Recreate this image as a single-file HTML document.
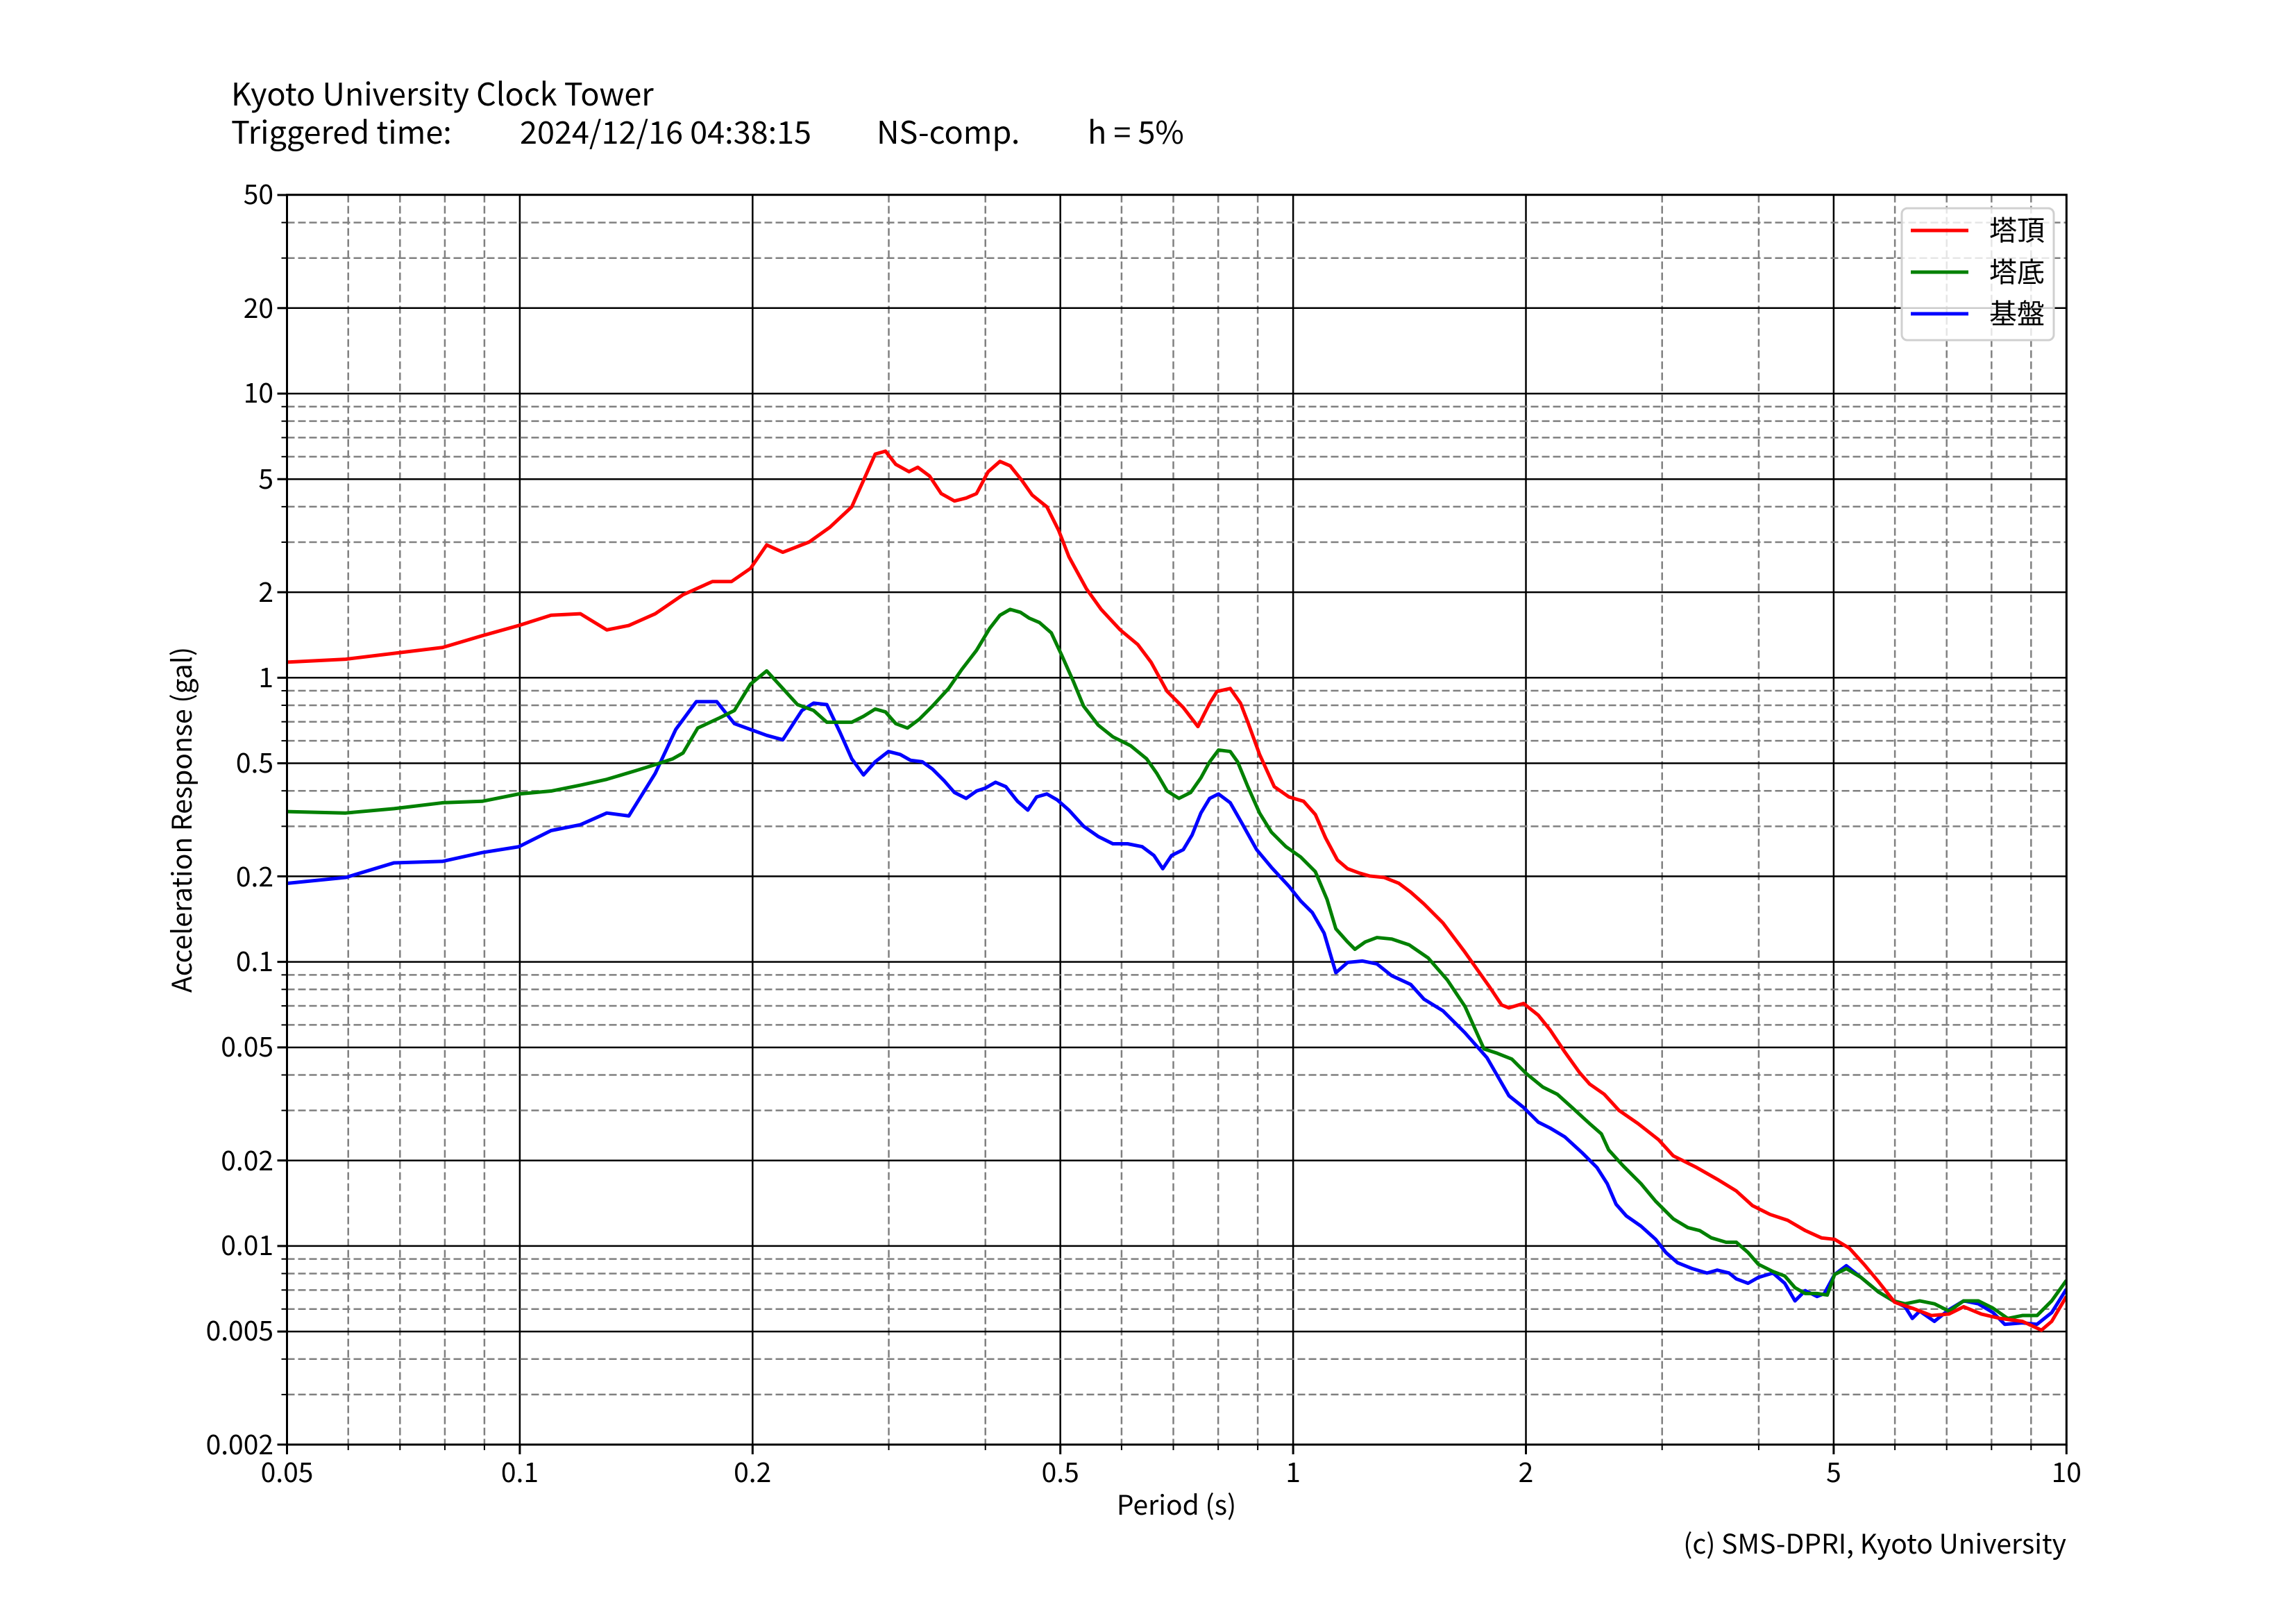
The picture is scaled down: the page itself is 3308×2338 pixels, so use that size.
<!DOCTYPE html>
<html><head><meta charset="utf-8">
<style>
html,body{margin:0;padding:0;background:#fff;}
svg{display:block;}
text{font-family:"Noto Sans CJK JP","Liberation Sans",sans-serif;fill:#000;}
</style></head>
<body>
<svg id="s" width="3308" height="2338" viewBox="0 0 3308 2338" xmlns="http://www.w3.org/2000/svg">
<rect width="3308" height="2338" fill="#fff"/>
<g id="grid"></g>
<g font-size="39" text-anchor="end">
<text x="394" y="294">50</text>
<text x="394" y="458">20</text>
<text x="394" y="580">10</text>
<text x="394" y="704">5</text>
<text x="394" y="867">2</text>
<text x="394" y="990">1</text>
<text x="394" y="1113">0.5</text>
<text x="394" y="1277">0.2</text>
<text x="394" y="1399">0.1</text>
<text x="394" y="1522">0.05</text>
<text x="394" y="1686">0.02</text>
<text x="394" y="1808">0.01</text>
<text x="394" y="1931">0.005</text>
<text x="394" y="2095">0.002</text>
</g>
<g font-size="39" text-anchor="middle">
<text x="413.5" y="2135">0.05</text>
<text x="748.9" y="2135">0.1</text>
<text x="1084.2" y="2135">0.2</text>
<text x="1527.7" y="2135">0.5</text>
<text x="1863.1" y="2135">1</text>
<text x="2198.4" y="2135">2</text>
<text x="2641.9" y="2135">5</text>
<text x="2977.3" y="2135">10</text>
<text x="1695" y="2182">Period (s)</text>
<text transform="translate(276,1181) rotate(-90)">Acceleration Response (gal)</text>
</g>
<text x="2977" y="2238" font-size="39" text-anchor="end">(c) SMS-DPRI, Kyoto University</text>
<g font-size="45">
<text x="333" y="152">Kyoto University Clock Tower</text>
<text x="333" y="207">Triggered time:</text>
<text x="749" y="207">2024/12/16 04:38:15</text>
<text x="1263" y="207">NS-comp.</text>
<text x="1567" y="207">h = 5%</text>
</g>
<svg x="413.5" y="280.6" width="2563.8" height="1800.4" viewBox="0 0 2563.8 1800.4" overflow="hidden">
<g transform="scale(2.1135,2.1104) translate(-197,-133)" fill="none" stroke-width="5" stroke-linejoin="round">
<polyline vector-effect="non-scaling-stroke" stroke="#00f" points="197,603 237,599 270,589 303,588 330,582 355,578 377,567 397,563 415,555 430,557 448,528 462,498 476,479 490,479 502,494 513,498 524,502 535,505 548,485 556,480 565,481 574,500 582,518 590,529 598,520 607,513 615,515 622,519 630,520 637,525 645,533 652,541 660,545 667,540 673,538 680,534 687,537 695,547 702,553 708,544 715,542 722,546 730,553 740,564 750,571 760,576 770,576 780,578 788,584 794,593 800,584 808,580 814,570 820,555 826,545 832,542 840,548 848,562 858,580 868,592 880,605 888,615 896,623 904,637 912,664 920,657 930,656 940,658 950,666 963,672 972,682 985,690 1000,705 1015,722 1030,748 1040,756 1050,766 1058,770 1068,776 1080,787 1090,797 1097,808 1103,822 1110,830 1120,837 1130,846 1137,855 1145,862 1155,866 1165,869 1172,867 1180,869 1185,873 1193,876 1200,872 1210,869 1218,876 1225,888 1232,881 1240,885 1245,883 1252,870 1260,864 1270,872 1282,882 1292,888 1300,892 1305,900 1310,895 1320,902 1330,894 1340,888 1350,890 1360,896 1368,904 1380,903 1390,904 1400,896 1410,880"/>
<polyline vector-effect="non-scaling-stroke" stroke="#008000" points="197,554 237,555 270,552 303,548 330,547 355,542 377,540 397,536 415,532 435,526 448,522 460,518 467,514 477,497 492,490 502,485 513,467 524,458 535,470 545,481 556,485 565,493 575,493 582,493 590,489 598,484 605,486 612,494 620,497 628,491 637,482 648,470 657,457 667,444 676,429 683,420 690,416 697,418 703,422 710,425 718,432 725,447 733,465 740,482 750,495 760,503 772,509 783,518 790,528 797,540 805,545 813,541 820,531 826,520 832,512 840,513 845,520 852,537 860,555 868,568 878,578 888,585 898,595 906,614 912,634 920,643 925,648 932,643 940,640 950,641 962,645 975,654 988,669 1000,687 1013,716 1022,719 1032,723 1042,733 1053,742 1063,747 1073,756 1085,767 1093,774 1098,785 1108,796 1120,808 1130,820 1142,832 1152,838 1160,840 1168,845 1178,848 1185,848 1193,855 1200,863 1210,868 1218,871 1225,879 1232,883 1240,883 1247,884 1252,870 1260,866 1270,872 1282,882 1292,888 1300,890 1310,888 1320,890 1330,895 1340,888 1350,888 1360,893 1370,900 1380,898 1390,898 1400,888 1410,874"/>
<polyline vector-effect="non-scaling-stroke" stroke="#f00" points="197,452 237,450 270,446 303,442 330,434 355,427 377,420 397,419 415,430 430,427 448,419 467,406 487,397 500,397 513,388 524,372 535,377 553,370 567,360 582,346 590,328 598,310 605,308 612,317 621,322 627,319 635,325 643,337 652,342 660,340 667,337 675,322 683,315 690,318 698,328 705,338 715,346 723,362 730,380 742,402 752,416 765,430 777,440 786,452 797,472 808,483 818,496 826,480 831,472 840,470 847,480 852,493 860,515 870,537 880,544 890,547 898,556 905,572 913,587 920,593 928,596 935,598 945,599 955,603 963,609 972,617 985,630 1000,650 1017,674 1025,686 1030,688 1040,685 1050,693 1058,703 1068,718 1078,732 1085,740 1095,747 1105,758 1118,767 1132,778 1142,789 1158,797 1172,805 1185,813 1196,823 1208,829 1220,833 1232,840 1243,845 1252,846 1262,852 1272,863 1282,875 1293,889 1305,893 1318,898 1330,897 1340,892 1352,897 1365,900 1380,902 1393,908 1400,902 1410,885"/>
</g>
</svg>
<rect x="413.5" y="280.6" width="2563.8" height="1800.4" fill="none" stroke="#000" stroke-width="3"/>
<rect x="2740" y="300" width="219" height="190" rx="8" fill="#fff" fill-opacity="0.8" stroke="#d0d0d0" stroke-width="3"/>
<line x1="2753" y1="332" x2="2836" y2="332" stroke="#f00" stroke-width="5"/>
<line x1="2753" y1="392" x2="2836" y2="392" stroke="#008000" stroke-width="5"/>
<line x1="2753" y1="452" x2="2836" y2="452" stroke="#00f" stroke-width="5"/>
<g font-size="40">
<text x="2866" y="346">塔頂</text>
<text x="2866" y="406">塔底</text>
<text x="2866" y="466">基盤</text>
</g>
</svg>
<script>
(function(){
var g=document.getElementById('grid'),NS='http://www.w3.org/2000/svg';
var L=413.5,R=2977.3,T=280.6,B=2081,xd=1114.2,yd=409.3;
function X(v){return L+(Math.log10(v)+1.30103)*xd;}
function Y(v){return B-(Math.log10(v)-Math.log10(0.002))*yd;}
function ln(x1,y1,x2,y2,c,w,d){var e=document.createElementNS(NS,'line');e.setAttribute('x1',x1);e.setAttribute('y1',y1);e.setAttribute('x2',x2);e.setAttribute('y2',y2);e.setAttribute('stroke',c);e.setAttribute('stroke-width',w);if(d)e.setAttribute('stroke-dasharray',d);g.appendChild(e);}
var xs=[];for(var dd=0.01;dd<=1.01;dd*=10){for(var k=1;k<10;k++){var v=+(k*dd).toPrecision(3);if(v>=0.05&&v<=10)xs.push(v);}}xs.push(10);
xs.forEach(function(v){var m=String(v).replace('0.','').replace(/0/g,'');var d1=m[0];var maj=(d1=='1'||d1=='2'||d1=='5');var x=X(v);
 if(maj){ln(x,T,x,B,'#000',2.5);ln(x,B,x,B+14,'#000',3);}else{ln(x,T,x,B,'#808080',2.5,'11,5');ln(x,B,x,B+8,'#000',2);}});
var ys=[];for(var dd2=0.001;dd2<=10.1;dd2*=10){for(var k2=1;k2<10;k2++){var v2=+(k2*dd2).toPrecision(3);if(v2>=0.002&&v2<=50)ys.push({v:v2,k:k2});}}
ys.forEach(function(o){var maj=(o.k==1||o.k==2||o.k==5);var y=Y(o.v);
 if(maj){ln(L,y,R,y,'#000',2.5);ln(L-14,y,L,y,'#000',3);}else{ln(L,y,R,y,'#808080',2.5,'11,5');ln(L-8,y,L,y,'#000',2);}});
})();
</script>
</body></html>
